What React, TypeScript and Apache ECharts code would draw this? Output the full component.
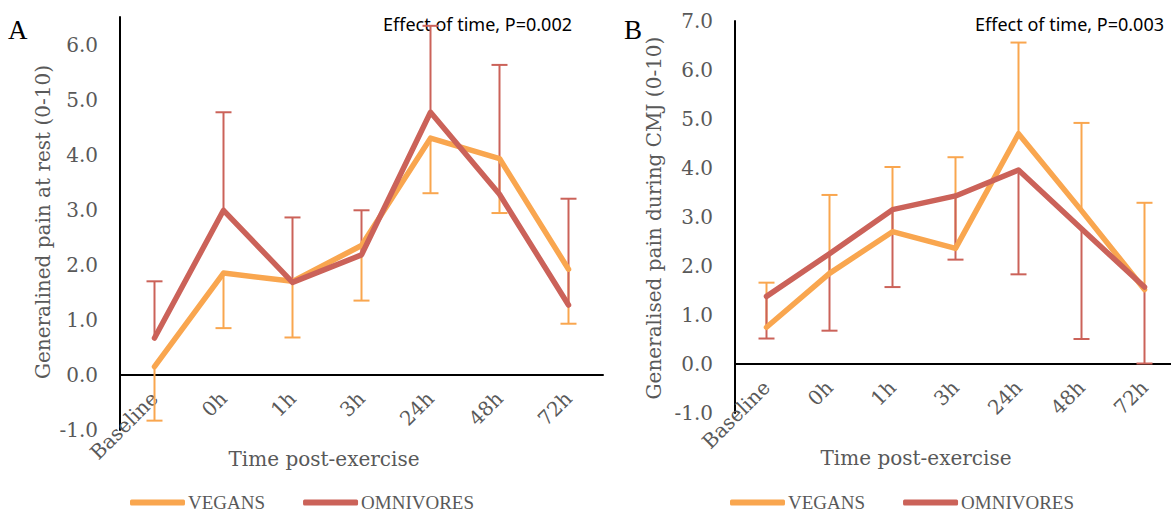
import React, { useEffect, useRef } from "react";
import * as echarts from "echarts";

const categories = ["Baseline", "0h", "1h", "3h", "24h", "48h", "72h"];

// Panel A: generalised pain at rest
const veganRestMean = [0.15, 1.85, 1.7, 2.35, 4.3, 3.93, 1.92];
const veganRestErrEnd = [-0.83, 0.85, 0.68, 1.35, 3.3, 2.94, 0.93];
const omniRestMean = [0.67, 2.99, 1.68, 2.18, 4.77, 3.28, 1.27];
const omniRestErrEnd = [1.7, 4.77, 2.86, 2.99, 6.34, 5.63, 3.2];

// Panel B: generalised pain during CMJ
const veganCmjMean = [0.75, 1.85, 2.7, 2.36, 4.7, 3.13, 1.52];
const veganCmjErrEnd = [1.66, 3.45, 4.02, 4.22, 6.56, 4.92, 3.29];
const omniCmjMean = [1.38, 2.25, 3.15, 3.43, 3.96, 2.76, 1.57];
const omniCmjErrEnd = [0.52, 0.68, 1.57, 2.13, 1.83, 0.51, 0.01];

const yTicksA = { min: -1, max: 6.5, interval: 1 };
const yTicksB = { min: -1, max: 7, interval: 1 };

const ORANGE = "#F9A64F";
const RED = "#CB6259";
const GREY = "#595959";
const SERIF = "DejaVu Serif";

const GRID_A = { left: 120, top: 17, width: 483, height: 413 };
const GRID_B = { left: 735, top: 21, width: 441, height: 392 };

function errorBars(idx: number, means: number[], ends: number[], color: string) {
  return {
    type: "custom",
    xAxisIndex: idx,
    yAxisIndex: idx,
    z: 1,
    silent: true,
    encode: { x: 0, y: 1 },
    data: means.map((m, k) => [k, m, ends[k]]),
    renderItem: (params: any, api: any) => {
      const p1 = api.coord([api.value(0), api.value(1)]);
      const p2 = api.coord([api.value(0), api.value(2)]);
      return {
        type: "group",
        children: [
          {
            type: "line",
            shape: { x1: p1[0], y1: p1[1], x2: p2[0], y2: p2[1] },
            style: { stroke: color, lineWidth: 2 },
          },
          {
            type: "line",
            shape: { x1: p2[0] - 8, y1: p2[1], x2: p2[0] + 8, y2: p2[1] },
            style: { stroke: color, lineWidth: 2 },
          },
        ],
      };
    },
  };
}

function lineSeries(name: string, idx: number, data: number[], color: string, z: number) {
  return {
    type: "line",
    name,
    xAxisIndex: idx,
    yAxisIndex: idx,
    data,
    symbol: "none",
    showSymbol: false,
    z,
    itemStyle: { color },
    lineStyle: { color, width: 5.5, cap: "round", join: "round" },
  };
}

// the category axis sits on the value 0 line: shift it up from the grid bottom
function xAxis(idx: number, t: { min: number; max: number }, gridHeight: number) {
  const zeroShift = (gridHeight * (0 - t.min)) / (t.max - t.min);
  return {
    type: "category",
    gridIndex: idx,
    data: categories,
    boundaryGap: true,
    position: "bottom",
    offset: -zeroShift,
    axisLine: { onZero: false, lineStyle: { color: "#000", width: 2 } },
    axisTick: { show: false },
    splitLine: { show: false },
    axisLabel: {
      rotate: 45,
      interval: 0,
      margin: 20,
      color: GREY,
      fontFamily: SERIF,
      fontSize: 20,
      hideOverlap: false,
    },
  };
}

function yAxis(idx: number, t: { min: number; max: number; interval: number }) {
  return {
    type: "value",
    gridIndex: idx,
    min: t.min,
    max: t.max,
    interval: t.interval,
    splitLine: { show: false },
    axisTick: { show: false },
    axisLine: { show: true, onZero: false, lineStyle: { color: "#000", width: 2 } },
    axisLabel: {
      margin: 22,
      color: GREY,
      fontFamily: SERIF,
      fontSize: 20,
      showMaxLabel: Number.isInteger(t.max),
      formatter: (v: number) => (Number.isInteger(v) ? v.toFixed(1) : ""),
    },
  };
}

function legend(left: number) {
  return {
    left,
    top: 488,
    orient: "horizontal",
    data: ["VEGANS", "OMNIVORES"],
    icon: "roundRect",
    itemWidth: 55,
    itemHeight: 6,
    itemGap: 38,
    selectedMode: false,
    textStyle: { color: GREY, fontFamily: "Liberation Serif", fontSize: 19, padding: [0, 0, 0, -2] },
  };
}

export default function App() {
  const ref = useRef<HTMLDivElement>(null);
  useEffect(() => {
    if (!ref.current) return;
    const chart = echarts.init(ref.current, undefined, { renderer: "svg" });
    chart.setOption({
      animation: false,
      backgroundColor: "#fff",
      grid: [
        { ...GRID_A, containLabel: false, outerBoundsMode: "none" },
        { ...GRID_B, containLabel: false, outerBoundsMode: "none" },
      ],
      xAxis: [xAxis(0, yTicksA, GRID_A.height), xAxis(1, yTicksB, GRID_B.height)],
      yAxis: [yAxis(0, yTicksA), yAxis(1, yTicksB)],
      legend: [legend(125), legend(725)],
      series: [
        errorBars(0, veganRestMean, veganRestErrEnd, ORANGE),
        errorBars(0, omniRestMean, omniRestErrEnd, RED),
        lineSeries("VEGANS", 0, veganRestMean, ORANGE, 3),
        lineSeries("OMNIVORES", 0, omniRestMean, RED, 4),
        errorBars(1, veganCmjMean, veganCmjErrEnd, ORANGE),
        errorBars(1, omniCmjMean, omniCmjErrEnd, RED),
        lineSeries("VEGANS", 1, veganCmjMean, ORANGE, 3),
        lineSeries("OMNIVORES", 1, omniCmjMean, RED, 4),
      ],
      graphic: [
        {
          type: "text",
          x: 8,
          y: 16,
          style: { text: "A", fill: "#000", font: "27px 'Liberation Serif'" },
        },
        {
          type: "text",
          x: 624,
          y: 16,
          style: { text: "B", fill: "#000", font: "27px 'Liberation Serif'" },
        },
        {
          type: "text",
          x: 572,
          y: 24,
          style: {
            text: "Effect of time, P=0.002",
            fill: "#000",
            font: "18px 'Noto Sans'",
            align: "right",
            verticalAlign: "middle",
          },
        },
        {
          type: "text",
          x: 1164,
          y: 24,
          style: {
            text: "Effect of time, P=0.003",
            fill: "#000",
            font: "18px 'Noto Sans'",
            align: "right",
            verticalAlign: "middle",
          },
        },
        {
          type: "text",
          x: 43,
          y: 222,
          rotation: Math.PI / 2,
          style: {
            text: "Generalined pain at rest (0-10)",
            fill: GREY,
            font: "20px 'DejaVu Serif'",
            align: "center",
            verticalAlign: "middle",
          },
        },
        {
          type: "text",
          x: 654,
          y: 218,
          rotation: Math.PI / 2,
          style: {
            text: "Generalised pain during CMJ (0-10)",
            fill: GREY,
            font: "20px 'DejaVu Serif'",
            align: "center",
            verticalAlign: "middle",
          },
        },
        {
          type: "text",
          x: 324,
          y: 459,
          style: {
            text: "Time post-exercise",
            fill: GREY,
            font: "20px 'DejaVu Serif'",
            align: "center",
            verticalAlign: "middle",
          },
        },
        {
          type: "text",
          x: 916,
          y: 458,
          style: {
            text: "Time post-exercise",
            fill: GREY,
            font: "20px 'DejaVu Serif'",
            align: "center",
            verticalAlign: "middle",
          },
        },
      ],
    });
    return () => chart.dispose();
  }, []);
  return (
    <div
      ref={ref}
      style={{ position: "absolute", left: 0, top: 0, width: 1171, height: 513, background: "#fff" }}
    />
  );
}
